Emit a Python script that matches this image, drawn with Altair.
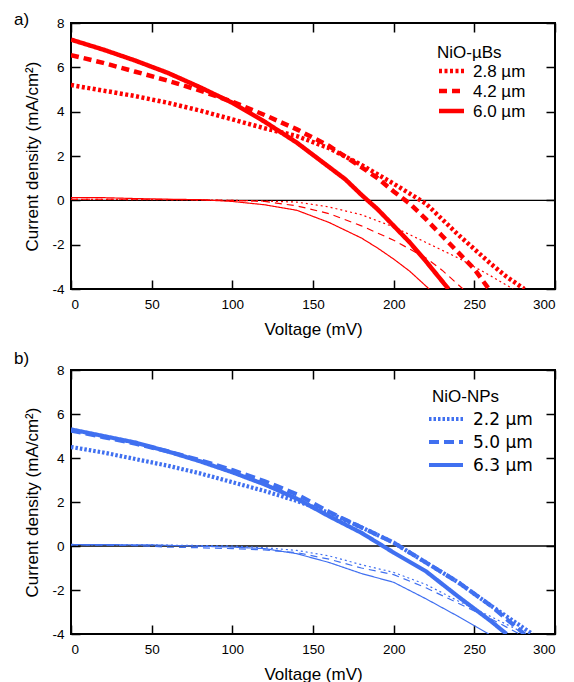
import altair as alt
import pandas as pd

RED = "#ff0000"
BLUE = "#4070f0"

X_TICKS = [0, 50, 100, 150, 200, 250, 300]
Y_TICKS = [-4, -2, 0, 2, 4, 6, 8]

# ---------------- panel a : NiO-µBs ----------------
A_TITLE = "NiO-µBs"
A_LABELS = ["2.8 µm", "4.2 µm", "6.0 µm"]

A_LIGHT_V_28 = [0, 20, 40, 60, 80, 100, 120, 140, 160, 180, 200, 210, 220, 230, 240, 250, 260, 270, 281]
A_LIGHT_J_28 = [5.2, 4.95, 4.7, 4.4, 4.05, 3.65, 3.25, 2.9, 2.35, 1.6, 0.75, 0.3, -0.15, -0.85, -1.55, -2.2, -2.85, -3.45, -4.0]
A_LIGHT_V_42 = [0, 20, 40, 60, 80, 100, 120, 140, 160, 180, 190, 200, 210, 220, 230, 240, 250, 259]
A_LIGHT_J_42 = [6.55, 6.2, 5.8, 5.4, 4.95, 4.45, 3.85, 3.2, 2.45, 1.5, 1.0, 0.4, -0.15, -0.85, -1.6, -2.35, -3.1, -4.0]
A_LIGHT_V_60 = [0, 20, 40, 60, 80, 100, 120, 140, 160, 170, 180, 190, 200, 210, 220, 234]
A_LIGHT_J_60 = [7.25, 6.8, 6.3, 5.75, 5.1, 4.4, 3.55, 2.6, 1.5, 0.95, 0.25, -0.4, -1.15, -1.9, -2.75, -4.0]

A_DARK_V_28 = [0, 50, 100, 120, 140, 160, 180, 200, 220, 240, 260, 274]
A_DARK_J_28 = [0.05, 0.03, 0.0, -0.03, -0.08, -0.3, -0.65, -1.2, -1.9, -2.6, -3.4, -4.0]
A_DARK_V_42 = [0, 50, 100, 120, 140, 160, 180, 200, 220, 230, 243]
A_DARK_J_42 = [0.05, 0.05, 0.0, -0.05, -0.25, -0.6, -1.15, -1.8, -2.6, -3.15, -4.0]
A_DARK_V_60 = [0, 20, 40, 60, 80, 100, 120, 140, 160, 180, 190, 200, 210, 222]
A_DARK_J_60 = [0.12, 0.12, 0.08, 0.05, 0.03, -0.05, -0.2, -0.45, -1.0, -1.7, -2.15, -2.65, -3.2, -4.0]

# ---------------- panel b : NiO-NPs ----------------
B_TITLE = "NiO-NPs"
B_LABELS = ["2.2 μm", "5.0 μm", "6.3 μm"]

B_LIGHT_V_22 = [0, 20, 40, 60, 80, 100, 120, 140, 160, 180, 200, 220, 240, 260, 280, 286]
B_LIGHT_J_22 = [4.5, 4.25, 3.95, 3.65, 3.3, 2.9, 2.5, 2.05, 1.5, 0.85, 0.15, -0.75, -1.65, -2.7, -3.7, -4.0]
B_LIGHT_V_50 = [0, 20, 40, 60, 80, 100, 120, 140, 160, 180, 200, 220, 240, 260, 281]
B_LIGHT_J_50 = [5.25, 4.95, 4.65, 4.3, 3.9, 3.45, 2.95, 2.35, 1.55, 0.85, 0.15, -0.75, -1.65, -2.7, -4.0]
B_LIGHT_V_63 = [0, 20, 40, 60, 80, 100, 120, 140, 160, 180, 200, 220, 240, 260, 270]
B_LIGHT_J_63 = [5.3, 5.0, 4.7, 4.3, 3.85, 3.35, 2.8, 2.15, 1.35, 0.6, -0.3, -1.15, -2.3, -3.4, -4.0]

B_DARK_V_22 = [0, 50, 100, 120, 140, 160, 180, 200, 220, 240, 260, 282]
B_DARK_J_22 = [0.05, 0.05, 0.0, -0.08, -0.2, -0.45, -0.85, -1.2, -1.75, -2.5, -3.2, -4.0]
B_DARK_V_50 = [0, 40, 60, 80, 100, 120, 140, 160, 180, 200, 220, 240, 260, 278]
B_DARK_J_50 = [0.05, 0.02, -0.05, -0.08, -0.12, -0.18, -0.3, -0.6, -1.0, -1.3, -1.9, -2.6, -3.3, -4.0]
B_DARK_V_63 = [0, 50, 100, 120, 140, 160, 180, 200, 220, 240, 259]
B_DARK_J_63 = [0.07, 0.05, -0.05, -0.12, -0.35, -0.75, -1.25, -1.65, -2.4, -3.2, -4.0]


def table(labels, vs, js):
    rows = []
    for lab, v, j in zip(labels, vs, js):
        for a, b in zip(v, j):
            rows.append({"V": a, "J": b, "series": lab})
    return pd.DataFrame(rows)


def text_layer(txt, x, y, font, size=17):
    return alt.Chart(pd.DataFrame({"t": [txt]})).mark_text(
        align="left", baseline="alphabetic", fontSize=size, font=font, color="black"
    ).encode(text="t:N", x=alt.value(x), y=alt.value(y))


def panel(letter, letter_y, labels, light, dark, color, legend_title, label_font,
          leg, thick_w, thick_dash, thin_dash, W, H):
    xs = alt.Scale(domain=[0, 300], nice=False, zero=False)
    ys = alt.Scale(domain=[-4, 8], nice=False, zero=False)
    tick_style = dict(offset=-9, ticks=True, tickSize=9, tickWidth=1.5, tickColor="black", domain=False)

    x_main = alt.X("V:Q", scale=xs, axis=alt.Axis(
        values=X_TICKS, title="Voltage (mV)", labelExpr="'' + datum.value", labelPadding=8, **tick_style))
    y_main = alt.Y("J:Q", scale=ys, axis=alt.Axis(
        values=Y_TICKS, title="Current density (mA/cm²)", labelExpr="'' + datum.value",
        labelPadding=7, **tick_style))
    x_top = alt.X("V:Q", scale=xs, axis=alt.Axis(
        orient="top", values=X_TICKS, labels=False, title="", **tick_style))
    y_right = alt.Y("J:Q", scale=ys, axis=alt.Axis(
        orient="right", values=Y_TICKS, labels=False, title="", **tick_style))

    zero = alt.Chart(pd.DataFrame({"J": [0]})).mark_rule(color="black", strokeWidth=1.3).encode(
        y=alt.Y("J:Q", scale=ys, axis=None))

    thin = alt.Chart(dark).mark_line(color=color, strokeWidth=1.2, clip=True).encode(
        x=x_top, y=y_right,
        strokeDash=alt.StrokeDash("series:N", scale=alt.Scale(domain=labels, range=thin_dash), legend=None),
    )
    thick = alt.Chart(light).mark_line(color=color, strokeWidth=thick_w, clip=True).encode(
        x=x_main, y=y_main,
        strokeDash=alt.StrokeDash("series:N", scale=alt.Scale(domain=labels, range=thick_dash), legend=None),
    )

    layers = [zero, thin, thick]

    # legend (drawn inside the plot, top right)
    layers.append(text_layer(legend_title, leg["title_x"], leg["title_y"], "Liberation Sans"))
    for i, lab in enumerate(labels):
        yy = leg["row0"] + i * leg["dy"]
        layers.append(
            alt.Chart(pd.DataFrame({"t": [lab]})).mark_rule(
                color=color, strokeWidth=thick_w, strokeDash=thick_dash[i]
            ).encode(x=alt.value(leg["sym_x"]), x2=alt.value(leg["sym_x"] + leg["sym_len"]), y=alt.value(yy))
        )
        layers.append(text_layer(lab, leg["label_x"], yy + leg["base_off"], label_font))

    layers.append(text_layer(letter, -57, letter_y, "Liberation Sans"))

    return alt.layer(*layers).resolve_axis(x="independent", y="independent").resolve_scale(
        strokeDash="independent"
    ).properties(width=W, height=H)


a_light = table(A_LABELS, [A_LIGHT_V_28, A_LIGHT_V_42, A_LIGHT_V_60], [A_LIGHT_J_28, A_LIGHT_J_42, A_LIGHT_J_60])
a_dark = table(A_LABELS, [A_DARK_V_28, A_DARK_V_42, A_DARK_V_60], [A_DARK_J_28, A_DARK_J_42, A_DARK_J_60])
b_light = table(B_LABELS, [B_LIGHT_V_22, B_LIGHT_V_50, B_LIGHT_V_63], [B_LIGHT_J_22, B_LIGHT_J_50, B_LIGHT_J_63])
b_dark = table(B_LABELS, [B_DARK_V_22, B_DARK_V_50, B_DARK_V_63], [B_DARK_J_22, B_DARK_J_50, B_DARK_J_63])

leg_a = dict(title_x=366, title_y=35, sym_x=368, sym_len=25, label_x=402, row0=48, dy=20, base_off=6)
leg_b = dict(title_x=361, title_y=32, sym_x=358, sym_len=34, label_x=402, row0=49, dy=23, base_off=6)

pa = panel("a)", 2, A_LABELS, a_light, a_dark, RED, A_TITLE, "Liberation Sans",
           leg_a, 4.5, [[3, 2.5], [8, 5], [1, 0]], [[2, 3], [7, 5], [1, 0]], 484, 266)
pb = panel("b)", -6, B_LABELS, b_light, b_dark, BLUE, B_TITLE, "DejaVu Sans",
           leg_b, 4.2, [[2.5, 2], [10, 5], [1, 0]], [[2, 3], [7, 5], [1, 0]], 484, 264)

chart = alt.vconcat(pa, pb, spacing=10).resolve_scale(strokeDash="independent").properties(
    padding={"left": 5, "top": 2, "right": 0, "bottom": 0}
).configure_view(stroke="black", strokeWidth=2).configure_axis(
    grid=False, labelFont="Liberation Sans", labelFontSize=13.5,
    labelColor="black", titleFont="Liberation Sans", titleFontSize=17, titleFontWeight="normal",
    titleColor="black",
).configure_axisX(titlePadding=11).configure_axisY(titlePadding=10)

chart.save("out.html", embed_options={"renderer": "svg", "actions": False})
